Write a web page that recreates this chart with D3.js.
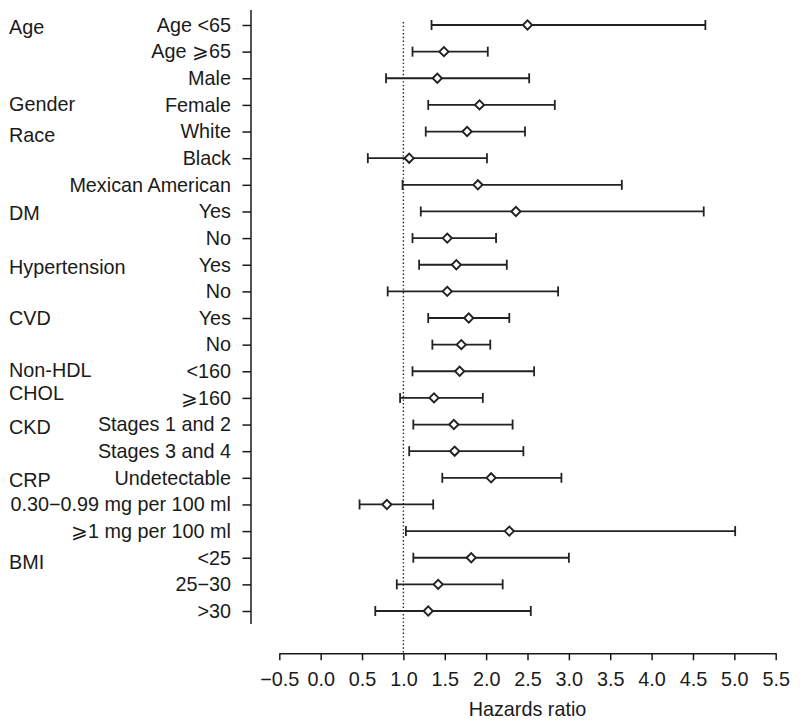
<!DOCTYPE html>
<html>
<head>
<meta charset="utf-8">
<script src="https://cdn.jsdelivr.net/npm/d3@7"></script>
<style>
    body { margin: 0; background: #fff; }
    svg { display: block; font-family: "Liberation Sans", Arial, Helvetica, sans-serif; }
    .axis text { font-size: 19.8px; fill: #1a1a1a; }
    .axis line, .axis path { stroke: #1a1a1a; stroke-width: 1.5; }
</style>
</head>
<body>
<div id="chart"></div>
<script>
// subgroup rows, top to bottom
let rowLabels = [
    "Age <65", "Age \u2A7E65", "Male", "Female", "White", "Black", "Mexican American",
    "Yes", "No", "Yes", "No", "Yes", "No",
    "<160", "\u2A7E160",
    "Stages 1 and 2", "Stages 3 and 4",
    "Undetectable", "0.30\u22120.99 mg per 100 ml", "\u2A7E1 mg per 100 ml",
    "<25", "25\u221230", ">30"
];

// hazards ratio point estimate and confidence interval
let hrEstimate = [2.50, 1.49, 1.41, 1.92, 1.77, 1.07, 1.90, 2.36, 1.53, 1.64, 1.53, 1.79, 1.70,
    1.68, 1.37, 1.61, 1.62, 2.06, 0.80, 2.28, 1.82, 1.42, 1.30];
let hrLower = [1.34, 1.11, 0.79, 1.30, 1.27, 0.57, 0.99, 1.21, 1.11, 1.19, 0.81, 1.30, 1.35,
    1.11, 0.96, 1.12, 1.07, 1.47, 0.47, 1.03, 1.12, 0.92, 0.66];
let hrUpper = [4.65, 2.02, 2.52, 2.83, 2.47, 2.01, 3.64, 4.63, 2.12, 2.25, 2.87, 2.28, 2.05,
    2.58, 1.96, 2.32, 2.45, 2.91, 1.36, 5.01, 3.00, 2.20, 2.54];

// group headings and the (fractional) row they sit beside
let groupNames = ["Age", "Gender", "Race", "DM", "Hypertension", "CVD", "Non-HDL", "CHOL", "CKD", "CRP", "BMI"];
let groupRows = [0.06, 2.98, 4.13, 7.05, 9.07, 11.0, 12.95, 13.83, 15.1, 17.08, 20.15];

let xTicks = d3.range(-0.5, 5.51, 0.5);
let referenceHR = 1.0;

let WIDTH = 800;
let HEIGHT = 724;
let FONT_SIZE = 19.8;

let rows = rowLabels.map((label, i) => ({
    key: i,
    label: label,
    hr: hrEstimate[i],
    lo: hrLower[i],
    hi: hrUpper[i]
}));

let svg = d3.select("#chart")
    .append("svg")
    .attr("width", WIDTH)
    .attr("height", HEIGHT);

let xScale = d3.scaleLinear()
    .domain([xTicks[0], xTicks[xTicks.length - 1]])
    .range([279.3, 775.7]);

let yScale = d3.scalePoint()
    .domain(rows.map(d => d.key))
    .range([25, 611]);

let axisX = 251;
let axisY = 653.3;

// y axis: row labels
let yAxis = svg.append("g")
    .attr("class", "axis y-axis")
    .attr("transform", `translate(${axisX}, 0)`)
    .call(d3.axisLeft(yScale)
        .tickSize(8.5)
        .tickPadding(11.5)
        .tickFormat(k => rowLabels[k]));
yAxis.select(".domain").remove();
yAxis.append("line")
    .attr("x1", 0).attr("x2", 0)
    .attr("y1", 10).attr("y2", 624);

// x axis
svg.append("g")
    .attr("class", "axis x-axis")
    .attr("transform", `translate(0, ${axisY})`)
    .call(d3.axisBottom(xScale)
        .tickValues(xTicks)
        .tickSize(7)
        .tickSizeOuter(0)
        .tickPadding(11.5)
        .tickFormat(d3.format(".1f")));

svg.append("text")
    .attr("x", (xScale.range()[0] + xScale.range()[1]) / 2)
    .attr("y", 716)
    .attr("text-anchor", "middle")
    .attr("font-size", FONT_SIZE)
    .attr("fill", "#1a1a1a")
    .text("Hazards ratio");

// group headings
let step = yScale.step();
svg.append("g")
    .selectAll("text")
    .data(groupNames)
    .join("text")
    .attr("x", 9)
    .attr("y", (d, i) => yScale.range()[0] + groupRows[i] * step)
    .attr("dy", "0.35em")
    .attr("font-size", FONT_SIZE)
    .attr("fill", "#1a1a1a")
    .text(d => d);

// reference line at HR = 1
svg.append("line")
    .attr("x1", xScale(referenceHR)).attr("x2", xScale(referenceHR))
    .attr("y1", 22).attr("y2", axisY)
    .attr("stroke", "#222")
    .attr("stroke-width", 1.4)
    .attr("stroke-dasharray", "1.4,2.3");

// error bars and diamonds
let capHalf = 5;
let dia = 4.6;
let bars = svg.append("g")
    .attr("stroke", "#222")
    .attr("stroke-width", 1.8)
    .selectAll("g")
    .data(rows)
    .join("g")
    .attr("transform", d => `translate(0, ${yScale(d.key)})`);

bars.append("line")
    .attr("x1", d => xScale(d.lo))
    .attr("x2", d => xScale(d.hi));
bars.append("line")
    .attr("x1", d => xScale(d.lo)).attr("x2", d => xScale(d.lo))
    .attr("y1", -capHalf).attr("y2", capHalf);
bars.append("line")
    .attr("x1", d => xScale(d.hi)).attr("x2", d => xScale(d.hi))
    .attr("y1", -capHalf).attr("y2", capHalf);
bars.append("path")
    .attr("fill", "#fff")
    .attr("stroke-width", 1.9)
    .attr("d", d => {
        let cx = xScale(d.hr);
        return `M${cx - dia},0L${cx},${-dia}L${cx + dia},0L${cx},${dia}Z`;
    });
</script>
</body>
</html>
